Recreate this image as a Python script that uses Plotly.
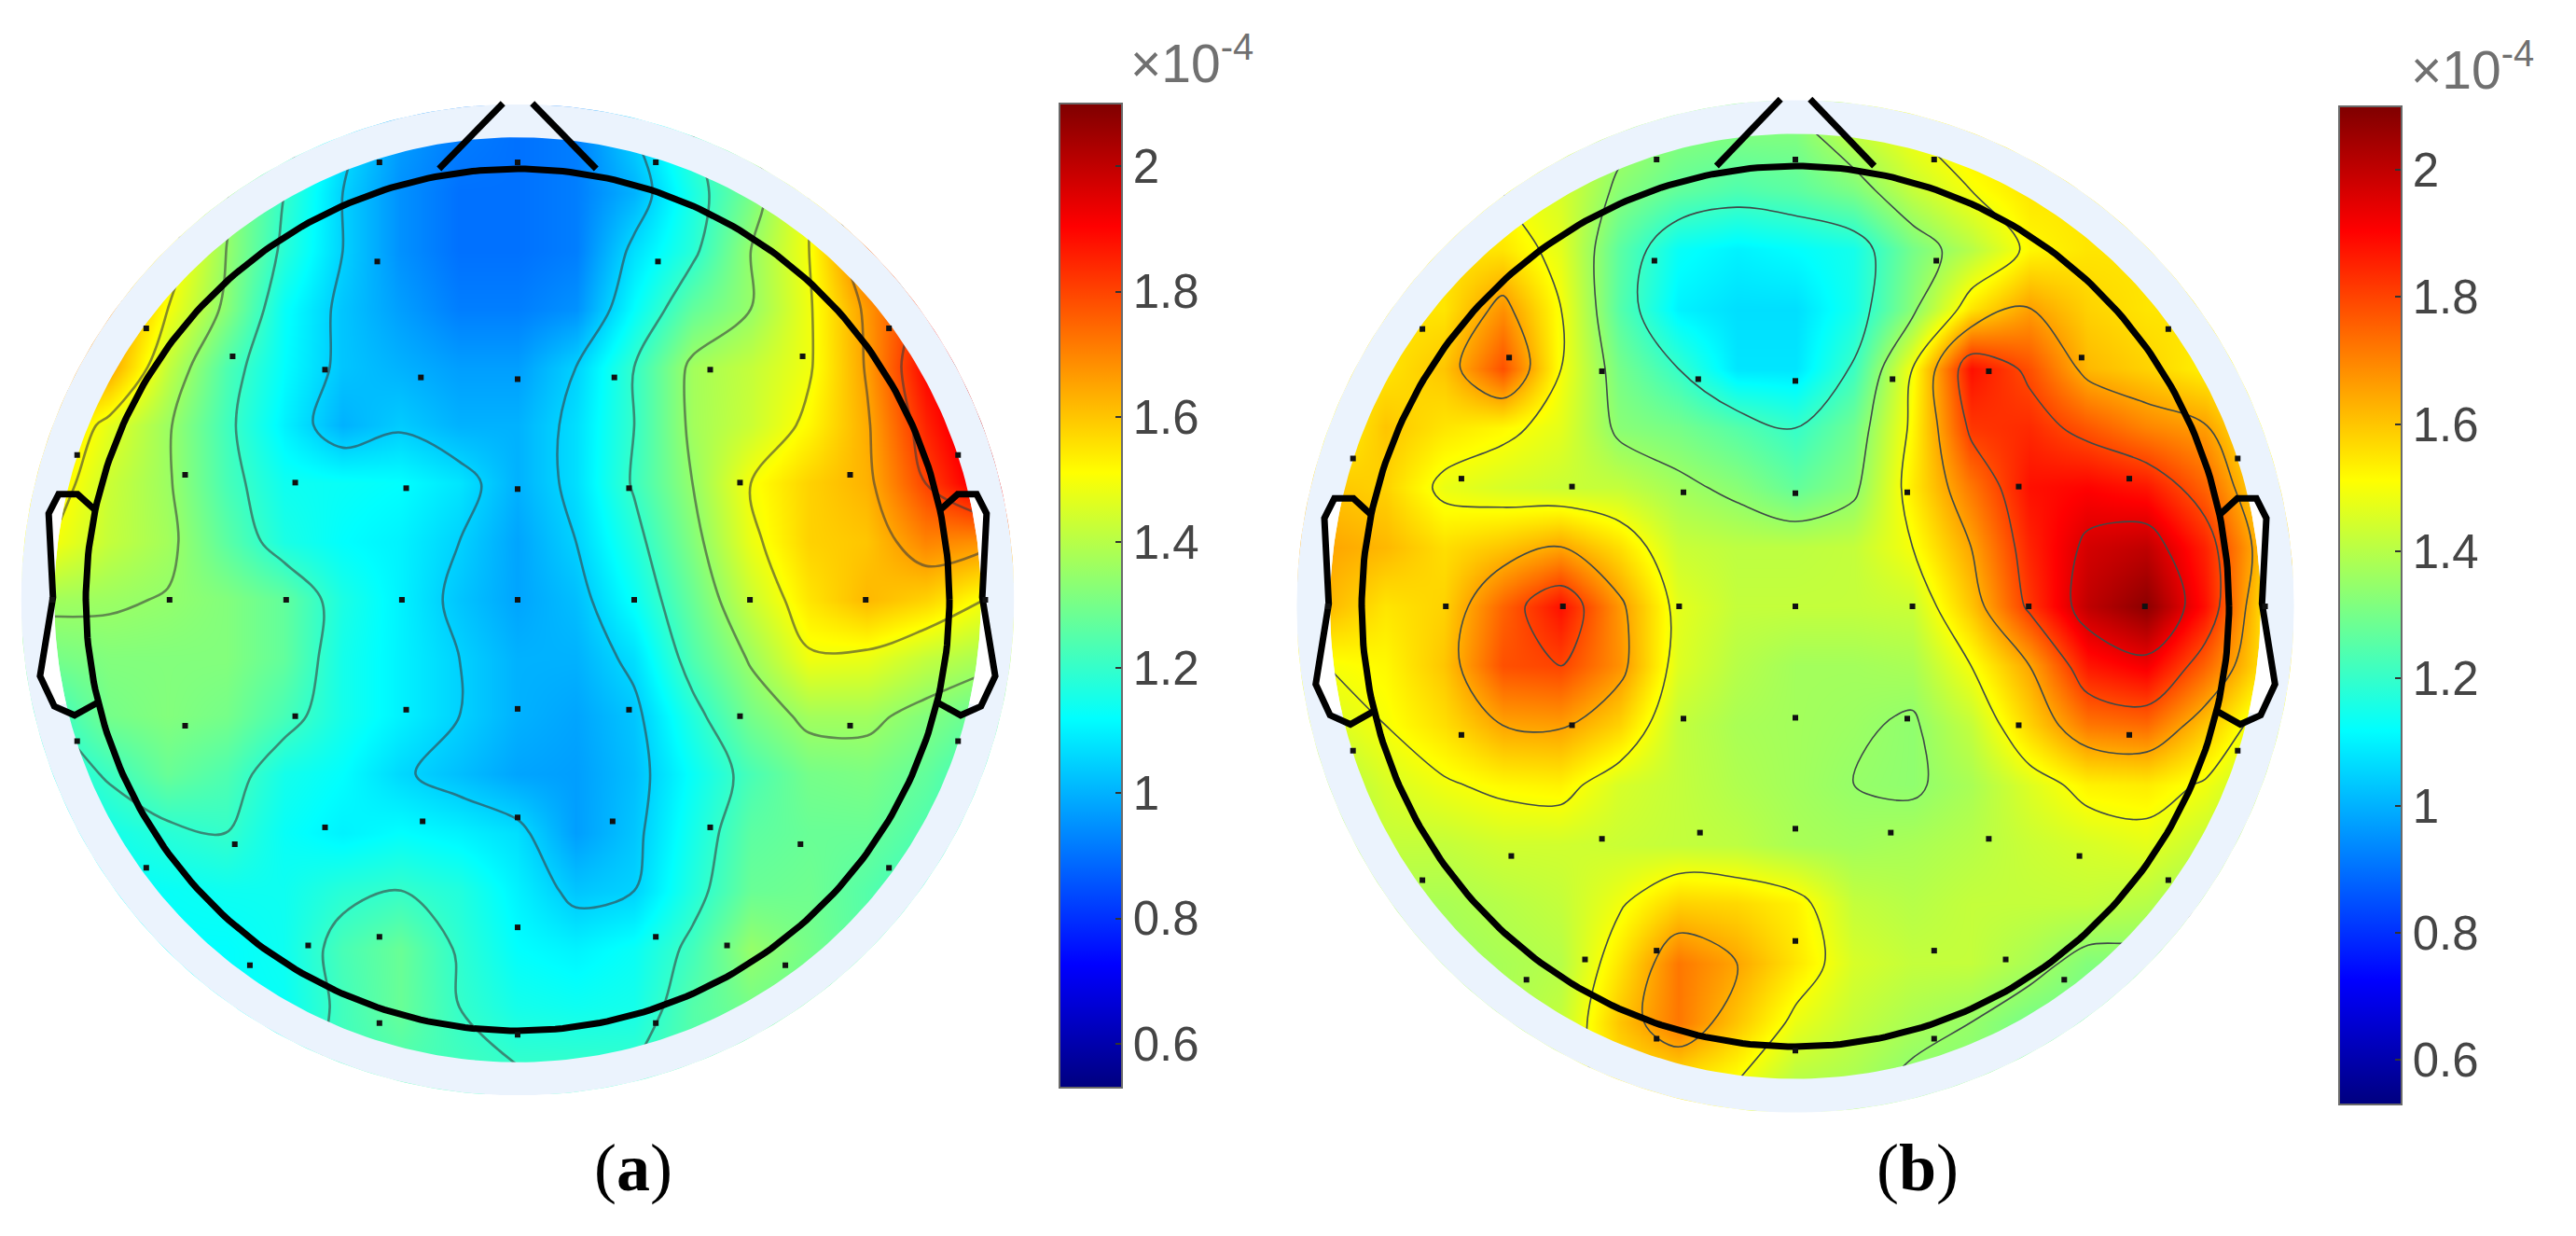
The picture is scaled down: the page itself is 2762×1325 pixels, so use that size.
import numpy as np
import plotly.graph_objects as go

# grid of the two scalp maps, head radius = 1
grid_x = [-1.08, -0.945, -0.81, -0.675, -0.54, -0.405, -0.27, -0.135, 0, 0.135, 0.27, 0.405, 0.54, 0.675, 0.81, 0.945, 1.08]
grid_y = [1.08, 0.945, 0.81, 0.675, 0.54, 0.405, 0.27, 0.135, 0, -0.135, -0.27, -0.405, -0.54, -0.675, -0.81, -0.945, -1.08]

# values in units of 1e-4, rows go top to bottom
z_a = [
    [1.30, 1.30, 1.30, 1.30, 1.25, 1.08, 0.97, 0.92, 0.90, 0.92, 1.05, 1.20, 1.35, 1.50, 1.70, 1.85, 1.95],
    [1.45, 1.45, 1.45, 1.35, 1.20, 1.05, 0.95, 0.90, 0.90, 0.92, 1.00, 1.16, 1.30, 1.50, 1.75, 1.90, 2.00],
    [1.55, 1.55, 1.55, 1.35, 1.18, 1.05, 0.95, 0.90, 0.90, 0.92, 1.07, 1.18, 1.35, 1.50, 1.75, 1.90, 2.00],
    [1.70, 1.70, 1.50, 1.33, 1.13, 1.03, 0.97, 0.92, 0.92, 0.95, 1.12, 1.27, 1.35, 1.49, 1.67, 1.85, 2.00],
    [1.70, 1.65, 1.42, 1.24, 1.12, 1.03, 1.00, 0.97, 0.97, 1.05, 1.20, 1.37, 1.42, 1.49, 1.66, 1.90, 2.00],
    [1.60, 1.47, 1.36, 1.22, 1.10, 1.00, 1.04, 1.00, 1.00, 1.07, 1.20, 1.37, 1.43, 1.52, 1.64, 1.85, 2.00],
    [1.55, 1.43, 1.36, 1.23, 1.14, 1.13, 1.12, 1.08, 1.00, 1.07, 1.21, 1.35, 1.50, 1.58, 1.63, 1.80, 1.95],
    [1.50, 1.42, 1.37, 1.26, 1.16, 1.12, 1.10, 1.05, 0.98, 1.05, 1.17, 1.32, 1.48, 1.58, 1.60, 1.70, 1.68],
    [1.37, 1.36, 1.345, 1.32, 1.27, 1.16, 1.10, 1.03, 0.98, 1.02, 1.13, 1.28, 1.43, 1.55, 1.62, 1.58, 1.50],
    [1.30, 1.32, 1.32, 1.32, 1.27, 1.15, 1.10, 1.05, 1.00, 1.00, 1.07, 1.24, 1.36, 1.49, 1.48, 1.42, 1.38],
    [1.20, 1.30, 1.32, 1.30, 1.23, 1.15, 1.10, 1.05, 1.00, 0.98, 1.03, 1.17, 1.30, 1.37, 1.37, 1.32, 1.27],
    [1.15, 1.21, 1.28, 1.24, 1.15, 1.12, 1.06, 1.02, 0.98, 0.97, 1.02, 1.13, 1.23, 1.30, 1.31, 1.27, 1.20],
    [1.10, 1.15, 1.18, 1.20, 1.13, 1.10, 1.12, 1.10, 1.07, 0.97, 1.03, 1.15, 1.26, 1.28, 1.28, 1.24, 1.18],
    [1.10, 1.12, 1.13, 1.14, 1.14, 1.18, 1.20, 1.17, 1.10, 1.03, 1.05, 1.17, 1.28, 1.29, 1.25, 1.20, 1.18],
    [1.10, 1.12, 1.12, 1.12, 1.14, 1.23, 1.28, 1.19, 1.12, 1.10, 1.13, 1.22, 1.35, 1.30, 1.25, 1.20, 1.18],
    [1.12, 1.12, 1.12, 1.12, 1.13, 1.22, 1.28, 1.20, 1.15, 1.14, 1.15, 1.25, 1.30, 1.28, 1.25, 1.20, 1.18],
    [1.15, 1.15, 1.15, 1.15, 1.17, 1.22, 1.24, 1.22, 1.20, 1.20, 1.20, 1.25, 1.25, 1.25, 1.22, 1.20, 1.18],
]

z_b = [
    [1.50, 1.50, 1.50, 1.50, 1.45, 1.38, 1.33, 1.32, 1.32, 1.42, 1.50, 1.55, 1.55, 1.55, 1.55, 1.55, 1.55],
    [1.50, 1.50, 1.50, 1.50, 1.45, 1.33, 1.27, 1.24, 1.26, 1.31, 1.42, 1.50, 1.55, 1.55, 1.55, 1.55, 1.55],
    [1.55, 1.55, 1.55, 1.55, 1.47, 1.26, 1.13, 1.10, 1.12, 1.15, 1.30, 1.40, 1.52, 1.55, 1.55, 1.55, 1.55],
    [1.55, 1.55, 1.55, 1.68, 1.50, 1.25, 1.10, 1.07, 1.07, 1.15, 1.33, 1.55, 1.66, 1.58, 1.55, 1.55, 1.55],
    [1.55, 1.55, 1.60, 1.78, 1.50, 1.30, 1.20, 1.08, 1.08, 1.21, 1.50, 1.88, 1.78, 1.62, 1.58, 1.53, 1.50],
    [1.50, 1.60, 1.55, 1.52, 1.47, 1.33, 1.30, 1.25, 1.20, 1.29, 1.52, 1.82, 1.84, 1.77, 1.70, 1.66, 1.50],
    [1.60, 1.58, 1.48, 1.45, 1.43, 1.42, 1.37, 1.33, 1.27, 1.33, 1.54, 1.72, 1.88, 1.90, 1.87, 1.75, 1.55],
    [1.65, 1.62, 1.56, 1.60, 1.65, 1.56, 1.43, 1.41, 1.41, 1.42, 1.50, 1.65, 1.85, 1.97, 2.00, 1.85, 1.60],
    [1.62, 1.55, 1.58, 1.75, 1.88, 1.67, 1.47, 1.42, 1.42, 1.42, 1.43, 1.60, 1.82, 2.00, 2.08, 1.88, 1.55],
    [1.50, 1.52, 1.60, 1.78, 1.80, 1.68, 1.46, 1.40, 1.37, 1.37, 1.38, 1.50, 1.65, 1.87, 1.92, 1.75, 1.55],
    [1.45, 1.50, 1.56, 1.65, 1.66, 1.58, 1.42, 1.38, 1.37, 1.36, 1.34, 1.42, 1.58, 1.72, 1.74, 1.60, 1.45],
    [1.38, 1.45, 1.49, 1.52, 1.53, 1.45, 1.42, 1.39, 1.37, 1.35, 1.34, 1.38, 1.46, 1.53, 1.54, 1.49, 1.40],
    [1.35, 1.42, 1.42, 1.44, 1.44, 1.43, 1.42, 1.41, 1.38, 1.37, 1.38, 1.40, 1.43, 1.45, 1.47, 1.42, 1.35],
    [1.35, 1.38, 1.38, 1.40, 1.42, 1.49, 1.58, 1.57, 1.53, 1.42, 1.40, 1.42, 1.42, 1.42, 1.40, 1.35, 1.33],
    [1.35, 1.36, 1.36, 1.38, 1.40, 1.55, 1.72, 1.65, 1.55, 1.45, 1.42, 1.42, 1.38, 1.32, 1.32, 1.30, 1.30],
    [1.35, 1.36, 1.36, 1.38, 1.42, 1.60, 1.72, 1.60, 1.48, 1.42, 1.38, 1.35, 1.30, 1.28, 1.28, 1.28, 1.28],
    [1.35, 1.36, 1.36, 1.38, 1.45, 1.55, 1.55, 1.50, 1.40, 1.38, 1.33, 1.32, 1.30, 1.28, 1.28, 1.28, 1.28],
]

# electrode positions
elec_x = [-0.32, 0, 0.32, -0.325, 0.325, -0.86, 0.86, -0.66, 0.66, -0.446, -0.224, 0, 0.224, 0.446,
          -1.02, 1.02, -0.77, 0.77, -0.515, -0.258, 0, 0.258, 0.515,
          -1.078, -0.806, -0.536, -0.268, 0, 0.27, 0.538, 0.806, 1.083,
          -1.02, -0.77, -0.515, -0.258, 0, 0.258, 0.515, 0.77, 1.02,
          -0.446, -0.22, 0, 0.22, 0.446, -0.655, 0.655, -0.86, 0.86,
          0, -0.32, 0.32, -0.485, 0.485, -0.62, 0.62, -0.32, 0.32, 0]
elec_y = [1.015, 1.015, 1.015, 0.785, 0.785, 0.63, 0.63, 0.565, 0.565, 0.534, 0.516, 0.512, 0.516, 0.534,
          0.336, 0.336, 0.29, 0.29, 0.272, 0.259, 0.257, 0.259, 0.272,
          0, 0, 0, 0, 0, 0, 0, 0, 0,
          -0.328, -0.292, -0.27, -0.255, -0.253, -0.255, -0.27, -0.292, -0.328,
          -0.528, -0.514, -0.505, -0.514, -0.528, -0.567, -0.567, -0.622, -0.622,
          -0.76, -0.782, -0.782, -0.802, -0.802, -0.848, -0.848, -0.982, -0.982, -1.009]

# nose and ear outlines
nose_x = [-0.182, -0.034, None, 0.034, 0.182]
nose_y = [1.0, 1.152, None, 1.152, 1.0]
ear_x = [0.978, 1.019, 1.063, 1.086, 1.076, 1.106, 1.073, 1.026, 0.972]
ear_y = [0.208, 0.245, 0.245, 0.2, 0.006, -0.177, -0.247, -0.268, -0.238]

cbar_vals = [0.6, 0.8, 1, 1.2, 1.4, 1.6, 1.8, 2]
cbar_text = ["0.6", "0.8", "1", "1.2", "1.4", "1.6", "1.8", "2"]

jet = [[0, "#00007f"], [0.125, "#0000ff"], [0.375, "#00ffff"], [0.625, "#ffff00"], [0.875, "#ff0000"], [1, "#7f0000"]]

W, H = 2762, 1325
PALE = "#ebf3fd"
LIM = 1.18
DISC = 1.073


def ring(r_in, r_out):
    t = np.linspace(0, 2 * np.pi, 361)
    xs = np.concatenate([r_out * np.cos(t), r_in * np.cos(t[::-1])])
    ys = np.concatenate([r_out * np.sin(t), r_in * np.sin(t[::-1])])
    return xs, ys


def ear_patch():
    # part of the ear that lies outside the coloured disc, it is white
    ex, ey = np.array(ear_x), np.array(ear_y)
    keep = np.hypot(ex, ey) >= DISC
    ex, ey = ex[keep], ey[keep]
    t = np.linspace(np.arctan2(ey[-1], ex[-1]), np.arctan2(ey[0], ex[0]), 40)
    return np.concatenate([ex, DISC * np.cos(t)]), np.concatenate([ey, DISC * np.sin(t)])


def add_panel(fig, z, n, cx, cy, rx, ry, bar_x, bar_y, bar_h, line_col, line_w):
    xa, ya = ("x", "y") if n == 1 else ("x2", "y2")
    fig.add_trace(go.Heatmap(x=grid_x, y=grid_y, z=z, zsmooth="best", colorscale=jet, zmin=0.53, zmax=2.1,
                             xaxis=xa, yaxis=ya, hoverinfo="skip",
                             colorbar=dict(x=bar_x / W, xanchor="left", y=1 - bar_y / H, yanchor="top",
                                           xpad=0, ypad=0, thickness=67, thicknessmode="pixels",
                                           len=bar_h, lenmode="pixels", outlinecolor="#6a6a6a", outlinewidth=2,
                                           tickmode="array", tickvals=cbar_vals, ticktext=cbar_text,
                                           ticks="inside", ticklen=8, tickwidth=2, tickcolor="#333333",
                                           tickprefix="\u00a0\u00a0",
                                           tickfont=dict(family="Liberation Sans", size=51, color="#454545"))))
    fig.add_trace(go.Contour(x=grid_x, y=grid_y, z=z, showscale=False, xaxis=xa, yaxis=ya, hoverinfo="skip",
                             contours=dict(coloring="none", start=1.05, end=2.0, size=0.15),
                             line=dict(color=line_col, width=line_w, smoothing=1)))
    # pale ring round the map, white outside of it
    for r_in, r_out, col in [(DISC, 1.15, PALE), (1.15, 1.8, "white")]:
        xs, ys = ring(r_in, r_out)
        fig.add_trace(go.Scatter(x=xs, y=ys, mode="lines", fill="toself", fillcolor=col, line=dict(width=0),
                                 xaxis=xa, yaxis=ya, hoverinfo="skip", showlegend=False))
    px_, py_ = ear_patch()
    for s in [1, -1]:
        fig.add_trace(go.Scatter(x=s * px_, y=py_, mode="lines", fill="toself", fillcolor="white", line=dict(width=0),
                                 xaxis=xa, yaxis=ya, hoverinfo="skip", showlegend=False))
    t = np.linspace(0, 2 * np.pi, 361)
    head = dict(mode="lines", line=dict(color="black", width=7), xaxis=xa, yaxis=ya, hoverinfo="skip", showlegend=False)
    fig.add_trace(go.Scatter(x=np.cos(t), y=np.sin(t), **head))
    fig.add_trace(go.Scatter(x=nose_x, y=nose_y, **head))
    fig.add_trace(go.Scatter(x=ear_x, y=ear_y, **head))
    fig.add_trace(go.Scatter(x=[-v for v in ear_x], y=ear_y, **head))
    fig.add_trace(go.Scatter(x=elec_x, y=elec_y, mode="markers", xaxis=xa, yaxis=ya, hoverinfo="skip", showlegend=False,
                             marker=dict(symbol="square", size=6, color="#111111", line=dict(width=0))))
    axis = dict(visible=False, range=[-LIM, LIM], fixedrange=True)
    dom_x = [(cx - LIM * rx) / W, (cx + LIM * rx) / W]
    dom_y = [1 - (cy + LIM * ry) / H, 1 - (cy - LIM * ry) / H]
    fig.update_layout({"xaxis" + ("" if n == 1 else "2"): dict(axis, domain=dom_x, anchor=ya),
                       "yaxis" + ("" if n == 1 else "2"): dict(axis, domain=dom_y, anchor=xa)})


fig = go.Figure()
add_panel(fig, z_a, 1, 555, 643, 463, 462, 1136, 111, 1055, "rgba(60,60,60,0.6)", 2.6)
add_panel(fig, z_b, 2, 1925, 650, 465, 472, 2508, 114, 1070, "#3f4a48", 1.6)

# exponent above the colour bars and the panel captions
for x, y in [(1278, 64), (2651, 71)]:
    fig.add_annotation(x=x / W, y=1 - y / H, xref="paper", yref="paper", showarrow=False, xanchor="center", yanchor="middle",
                       text="×10<sup>-4</sup>", font=dict(family="Liberation Sans", size=57, color="#707070"))
for x, label in [(679, "a"), (2056, "b")]:
    fig.add_annotation(x=x / W, y=1 - 1252 / H, xref="paper", yref="paper", showarrow=False, xanchor="center", yanchor="middle",
                       text="(<b>" + label + "</b>)", font=dict(family="Liberation Serif", size=72, color="black"))

fig.update_layout(width=W, height=H, margin=dict(l=0, r=0, t=0, b=0), paper_bgcolor="white", plot_bgcolor="white",
                  showlegend=False)
fig.write_html("out.html", config={"displayModeBar": False}, post_script="document.body.style.margin='0';")
